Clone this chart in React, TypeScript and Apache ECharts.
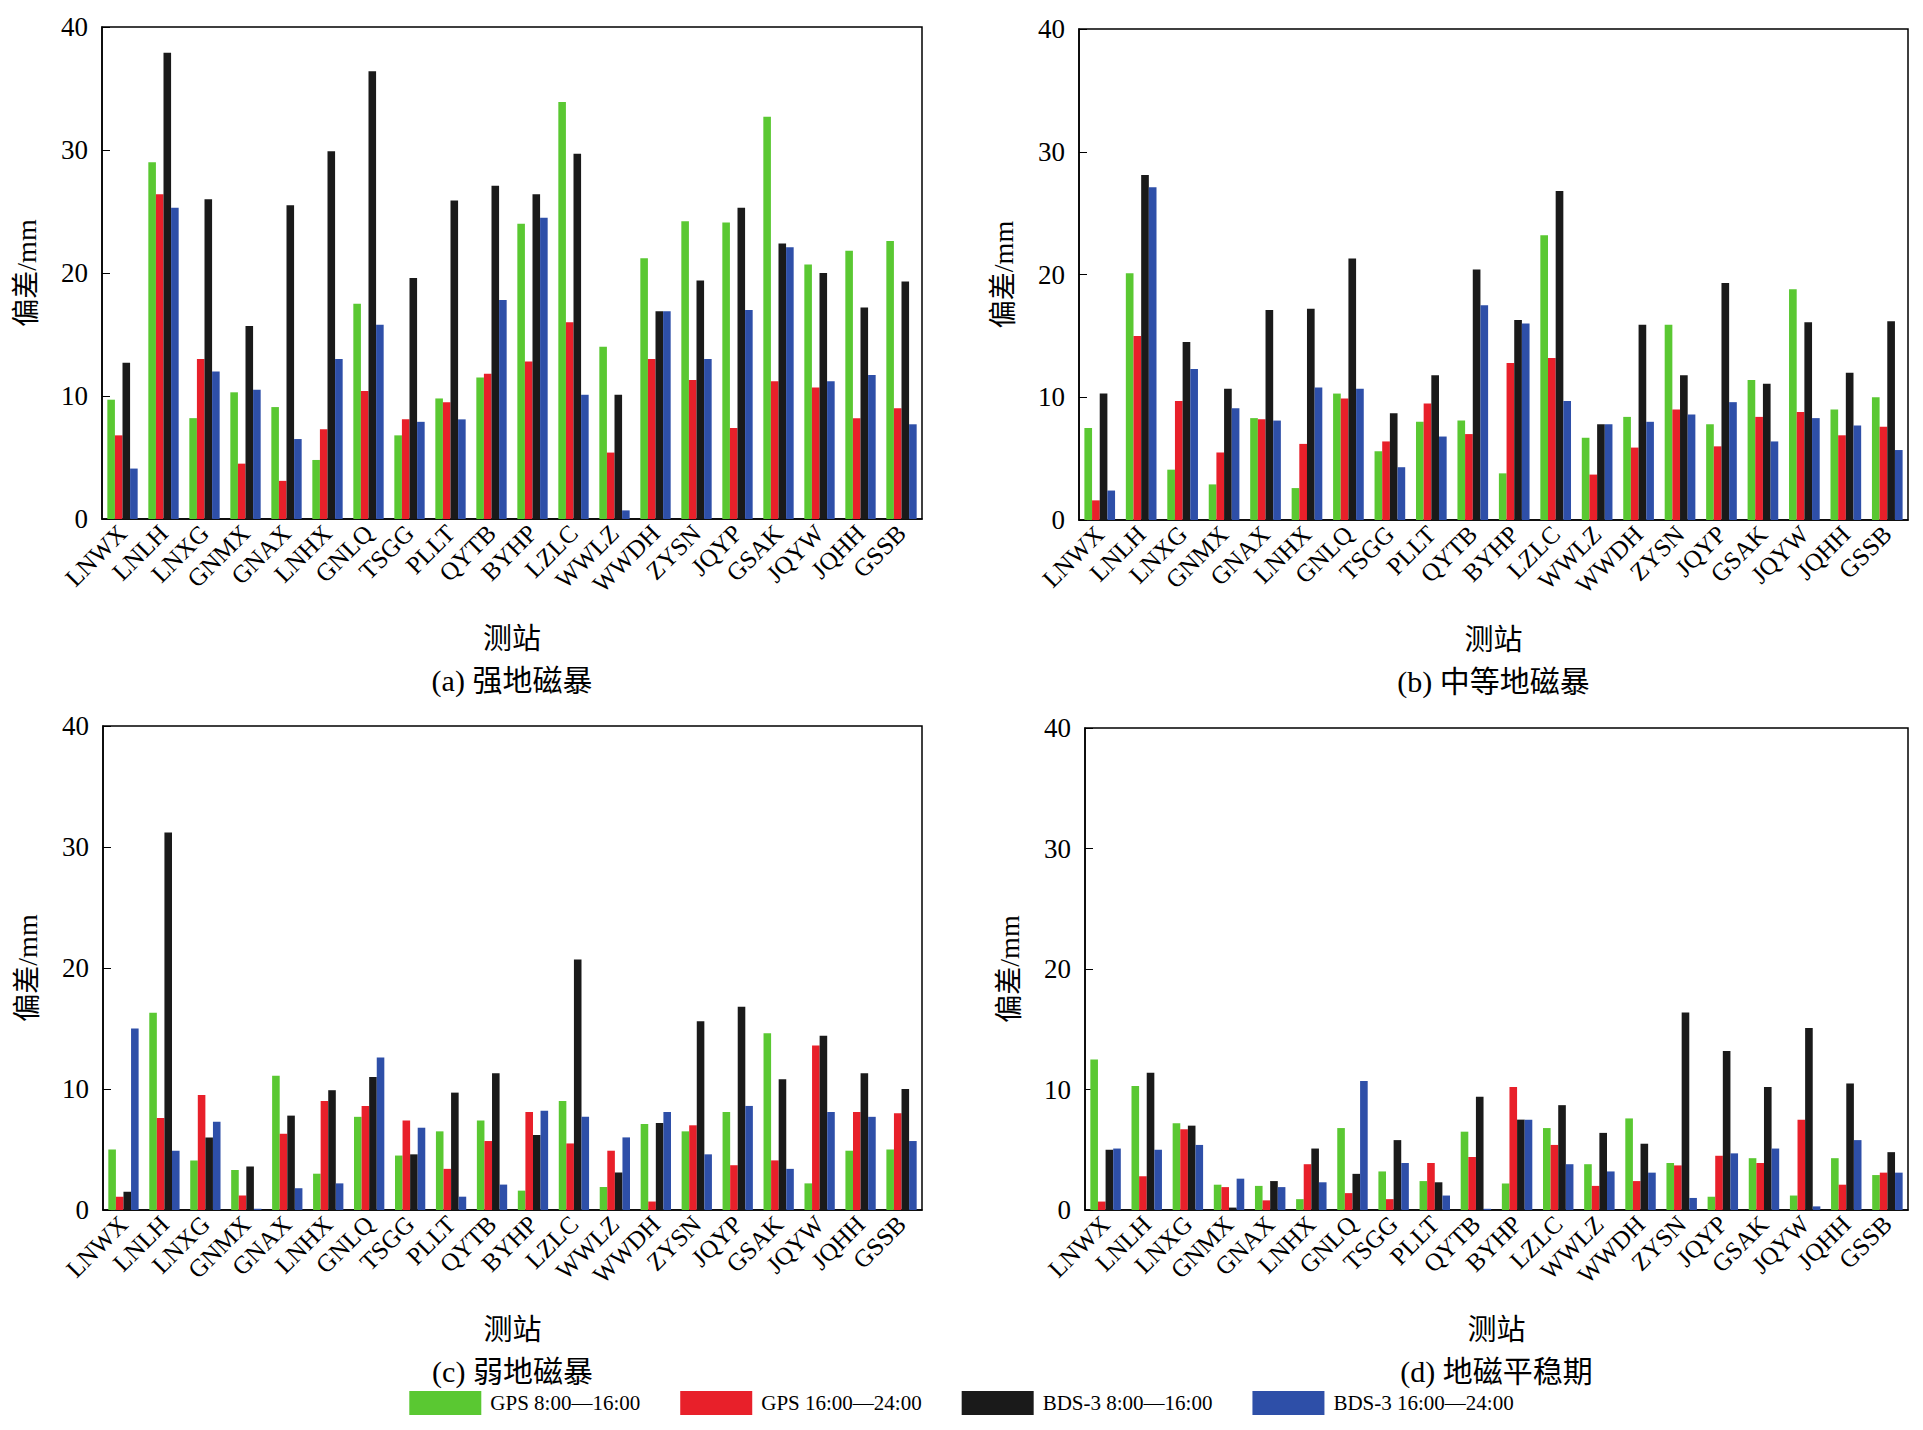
import React, { useEffect, useRef } from 'react';
import * as echarts from 'echarts';

const stations = ['LNWX', 'LNLH', 'LNXG', 'GNMX', 'GNAX', 'LNHX', 'GNLQ', 'TSGG', 'PLLT', 'QYTB', 'BYHP', 'LZLC', 'WWLZ', 'WWDH', 'ZYSN', 'JQYP', 'GSAK', 'JQYW', 'JQHH', 'GSSB'];
const seriesNames = ['GPS 8:00—16:00', 'GPS 16:00—24:00', 'BDS-3 8:00—16:00', 'BDS-3 16:00—24:00'];
const colors = ['#5ac832', '#e8202a', '#1a1a1a', '#2e4fa8'];
const panelTitles = ['(a) 强地磁暴', '(b) 中等地磁暴', '(c) 弱地磁暴', '(d) 地磁平稳期'];

const strongGps1 = [9.7, 29, 8.2, 10.3, 9.1, 4.8, 17.5, 6.8, 9.8, 11.5, 24, 33.9, 14, 21.2, 24.2, 24.1, 32.7, 20.7, 21.8, 22.6];
const strongGps2 = [6.8, 26.4, 13, 4.5, 3.1, 7.3, 10.4, 8.1, 9.5, 11.8, 12.8, 16, 5.4, 13, 11.3, 7.4, 11.2, 10.7, 8.2, 9];
const strongBds1 = [12.7, 37.9, 26, 15.7, 25.5, 29.9, 36.4, 19.6, 25.9, 27.1, 26.4, 29.7, 10.1, 16.9, 19.4, 25.3, 22.4, 20, 17.2, 19.3];
const strongBds2 = [4.1, 25.3, 12, 10.5, 6.5, 13, 15.8, 7.9, 8.1, 17.8, 24.5, 10.1, 0.7, 16.9, 13, 17, 22.1, 11.2, 11.7, 7.7];

const midGps1 = [7.5, 20.1, 4.1, 2.9, 8.3, 2.6, 10.3, 5.6, 8, 8.1, 3.8, 23.2, 6.7, 8.4, 15.9, 7.8, 11.4, 18.8, 9, 10];
const midGps2 = [1.6, 15, 9.7, 5.5, 8.2, 6.2, 9.9, 6.4, 9.5, 7, 12.8, 13.2, 3.7, 5.9, 9, 6, 8.4, 8.8, 6.9, 7.6];
const midBds1 = [10.3, 28.1, 14.5, 10.7, 17.1, 17.2, 21.3, 8.7, 11.8, 20.4, 16.3, 26.8, 7.8, 15.9, 11.8, 19.3, 11.1, 16.1, 12, 16.2];
const midBds2 = [2.4, 27.1, 12.3, 9.1, 8.1, 10.8, 10.7, 4.3, 6.8, 17.5, 16, 9.7, 7.8, 8, 8.6, 9.6, 6.4, 8.3, 7.7, 5.7];

const weakGps1 = [5, 16.3, 4.1, 3.3, 11.1, 3, 7.7, 4.5, 6.5, 7.4, 1.6, 9, 1.9, 7.1, 6.5, 8.1, 14.6, 2.2, 4.9, 5];
const weakGps2 = [1.1, 7.6, 9.5, 1.2, 6.3, 9, 8.6, 7.4, 3.4, 5.7, 8.1, 5.5, 4.9, 0.7, 7, 3.7, 4.1, 13.6, 8.1, 8];
const weakBds1 = [1.5, 31.2, 6, 3.6, 7.8, 9.9, 11, 4.6, 9.7, 11.3, 6.2, 20.7, 3.1, 7.2, 15.6, 16.8, 10.8, 14.4, 11.3, 10];
const weakBds2 = [15, 4.9, 7.3, 0.1, 1.8, 2.2, 12.6, 6.8, 1.1, 2.1, 8.2, 7.7, 6, 8.1, 4.6, 8.6, 3.4, 8.1, 7.7, 5.7];

const quietGps1 = [12.5, 10.3, 7.2, 2.1, 2, 0.9, 6.8, 3.2, 2.4, 6.5, 2.2, 6.8, 3.8, 7.6, 3.9, 1.1, 4.3, 1.2, 4.3, 2.9];
const quietGps2 = [0.7, 2.8, 6.7, 1.9, 0.8, 3.8, 1.4, 0.9, 3.9, 4.4, 10.2, 5.4, 2, 2.4, 3.7, 4.5, 3.9, 7.5, 2.1, 3.1];
const quietBds1 = [5, 11.4, 7, 0.2, 2.4, 5.1, 3, 5.8, 2.3, 9.4, 7.5, 8.7, 6.4, 5.5, 16.4, 13.2, 10.2, 15.1, 10.5, 4.8];
const quietBds2 = [5.1, 5, 5.4, 2.6, 1.9, 2.3, 10.7, 3.9, 1.2, 0.1, 7.5, 3.8, 3.2, 3.1, 1, 4.7, 5.1, 0.3, 5.8, 3.1];

const panels = [
  [strongGps1, strongGps2, strongBds1, strongBds2],
  [midGps1, midGps2, midBds1, midBds2],
  [weakGps1, weakGps2, weakBds1, weakBds2],
  [quietGps1, quietGps2, quietBds1, quietBds2],
];

const FONT = '"Liberation Serif", "Noto Sans CJK SC", serif';
const grids = [
  { left: 94, top: 19, width: 820, height: 492 },
  { left: 1071, top: 21, width: 829, height: 491 },
  { left: 95, top: 718, width: 819, height: 484 },
  { left: 1077, top: 720, width: 823, height: 482 },
];

export default function App() {
  const ref = useRef<HTMLDivElement>(null);
  useEffect(() => {
    if (!ref.current) return;
    const chart = echarts.init(ref.current, undefined, { renderer: 'svg' });
    const graphic: any[] = [];
    grids.forEach((g, i) => {
      const cx = g.left + g.width / 2;
      graphic.push(
        { type: 'text', x: g.left - 76, y: g.top + g.height / 2, rotation: Math.PI / 2, style: { text: '偏差/mm', font: `28px ${FONT}`, fill: '#000', align: 'center', verticalAlign: 'middle' } },
        { type: 'text', x: cx, y: g.top + g.height + 120, style: { text: '测站', font: `29px ${FONT}`, fill: '#000', align: 'center', verticalAlign: 'middle' } },
        { type: 'text', x: cx, y: g.top + g.height + 161, style: { text: panelTitles[i], font: `30px ${FONT}`, fill: '#000', align: 'center', verticalAlign: 'middle' } }
      );
    });
    const option: echarts.EChartsOption = {
      animation: false,
      backgroundColor: '#fff',
      textStyle: { fontFamily: FONT },
      grid: grids.map(g => ({ ...g, show: true, borderColor: '#000', borderWidth: 1.5, backgroundColor: 'transparent' })),
      legend: {
        top: 1378,
        left: 'center',
        icon: 'rect',
        itemWidth: 72,
        itemHeight: 24,
        itemGap: 40,
        textStyle: { fontFamily: FONT, fontSize: 21, color: '#000', padding: [0, 0, 0, 4] },
        data: seriesNames,
      },
      xAxis: grids.map((_, i) => ({
        type: 'category',
        gridIndex: i,
        data: stations,
        axisLine: { lineStyle: { color: '#000', width: 1.5 } },
        axisTick: { show: false },
        axisLabel: { rotate: 45, interval: 0, color: '#000', fontSize: 25, fontFamily: FONT, margin: 10 },
      })),
      yAxis: grids.map((_, i) => ({
        type: 'value',
        gridIndex: i,
        min: 0,
        max: 40,
        interval: 10,
        axisLine: { show: true, lineStyle: { color: '#000', width: 1.5 } },
        axisTick: { show: true, inside: true, length: 8, lineStyle: { color: '#000' } },
        splitLine: { show: false },
        axisLabel: { color: '#000', fontSize: 27, fontFamily: FONT, margin: 14 },
      })),
      series: panels.flatMap((p, i) =>
        p.map((vals, k) => ({
          name: seriesNames[k],
          type: 'bar' as const,
          xAxisIndex: i,
          yAxisIndex: i,
          data: vals,
          barGap: '0%',
          barCategoryGap: '26%',
          itemStyle: { color: colors[k] },
        }))
      ),
      graphic,
    };
    chart.setOption(option);
    return () => chart.dispose();
  }, []);
  return <div ref={ref} style={{ width: 1907, height: 1414 }} />;
}
